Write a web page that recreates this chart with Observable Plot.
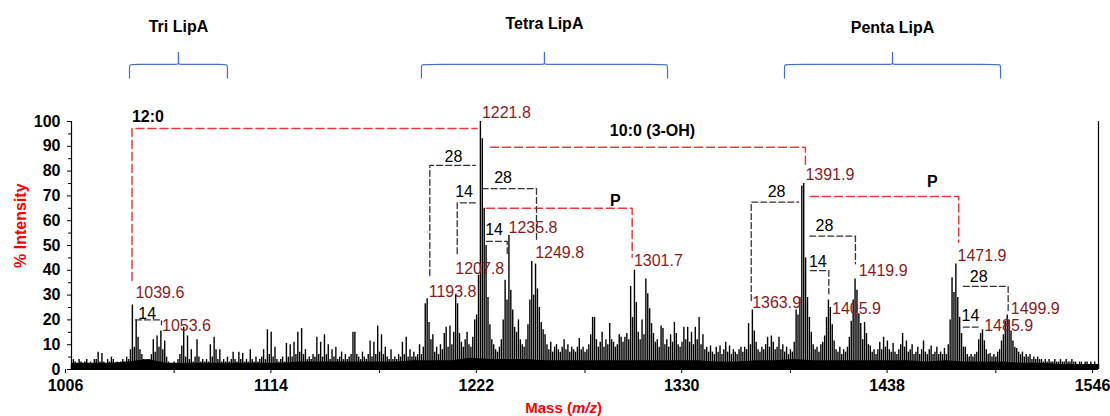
<!DOCTYPE html>
<html><head><meta charset="utf-8">
<script src="https://cdn.jsdelivr.net/npm/d3@7"></script>
<script src="https://cdn.jsdelivr.net/npm/@observablehq/plot@0.6"></script>
<style>
body{margin:0;background:#fff;}
#chart{width:1110px;height:416px;}
</style></head><body><div id="chart"></div>
<script>
// ---- spectrum: intensity (%) at each integer m/z starting at mzStart ----
const mzStart = 1006;
const intensity = [
  2,4,3,2,4,3,2,3,4,2,
  3,2,4,4,7,3,6.5,3,2,4,
  3,5,4,2,3,2,3,4,3,5,
  4,8,26,9,20,13,8,6,4,3,
  3,4,6,12,7,13.5,9,15.5,8,11.5,
  5,3,2,2,3,2,4,6,9.5,17,
  5,13.5,4,8,3,5,12,5,3,4,
  3,4,3,10,5,13,8,4,8,3,
  4,3,5,3,4,7,4,3,7,4,
  6.5,3,4,3,8,4,3,5,3,4,
  5,8,4,16,6,15,5,9,4,3,
  4,5,3,10.5,5,10,5,11,6,15,
  7,16.5,6,8,4,5,4,6,5,13,
  6,11,5,14,6,10,4,8,5,9,
  4,5,7,4,6,4,5,6,15,15,
  6,5,4,7,5,4,6,11.5,5,11,
  6,17.5,7,14,6,9,5,4,8,4,
  5,4,6,5,11,6,13,5,8,5,
  7,5,6,10,6,9,26.5,28.5,19,12,
  14,7,9,6,10,8,14.5,17,9,17.5,
  10,15,30,26.5,14.5,11,9,12,15,10,
  9,13,20,22,38,100,93,65,50,29,
  18,12,10,8,7,9,12,20,36,28,
  54,32,24,17,15,20,12,10,9,12,
  18,28,43.5,30,42.5,32.5,25,19,16,14,
  10,8,11,7,9,10,8,7,9,12,
  8,10,7,9,8,7,9,12.5,8,9,
  7,8,10,14,21,21,12,9,11,15,
  9,12,10,18.5,12,11,9,10,14,13,
  11,13,14.5,12,33.5,21,40,27,15,12,
  20,14,36.5,30.5,24.5,18.5,14.5,11,12,9,
  17.5,16.5,10,12,9,14,11,19,14.5,10,
  9,11,17,12,17,11,15,10,17,12,
  21,10,14,8,9,7,9.5,7,6,9,
  7,9.5,6,8,11,7,9.5,6,8,7,
  6,8,9,7,9,8,18.5,10,24,15.5,
  11,8,7,9,8,10,13,9,13.5,11,
  8,9,13,8,10,7,9,6,8,7,
  11,24,22,29,74,75,45,29,21,15,
  10,8,9,7,10,11,13.5,21,28,25,
  18,11.5,8,7,9,6,8,7,9,13,
  19.5,28,36.5,32,22.5,18.5,12,19,14.5,10,
  9.5,7,8,6,8,11,8,13,9,11.5,
  8,7,10.5,7,6,8,10,14.5,9,11.5,
  7,8,10,6,7,9,6,8,11.5,7,
  6,8,9.5,6,7,9,6,7,6,8.5,
  6,10,20,37,31,42.5,29,21,14.5,9,
  9,6,5,6,5,6,7,12,14.5,16,
  11.5,8,6,6.5,5,6,5,7,8,11.5,
  14,19.5,22,20,15.5,11.5,9,8.5,7,6,
  7,5,6,5,6,4,5,4,5,4,
  4,3,4,3,4,3,3,4,3,3,
  4,3,3,4,3,3,4,3,3,2,
  3,3,2,3,3,2,3,2,3,2,
  2
];
// noise floor (%) every floorStep m/z from mzStart
const floorStep = 10;
const noiseFloor = [
  2.5,2.5,2.5,3,4,2.5,2.5,2.5,2.5,2.5,
  2.5,2.5,3,3,3,3,3,3,3.5,3.5,
  3.5,4.5,4,4,4,3.5,3.5,3.5,3.5,3.5,
  3.5,3.5,3.5,3.5,3,3,3.5,3.5,4,3.5,
  3.5,3.5,3.5,3.5,3.5,3,3.5,3,3,3,
  2.5,2.5,2,2,2
];

// ---- axes ----
const xTicks = [1006, 1114, 1222, 1330, 1438, 1546];
const xMinorTicks = [1060, 1168, 1276, 1384, 1492];
const yTicks = [0, 10, 20, 30, 40, 50, 60, 70, 80, 90, 100];
const yMinorTicks = [5, 15, 25, 35, 45, 55, 65, 75, 85, 95];

// ---- labelled peaks (label text = m/z) and label height (%) ----
const peakLabels = ["1039.6","1053.6","1193.8","1207.8","1221.8","1235.8","1249.8","1301.7",
                    "1363.9","1391.9","1405.9","1419.9","1471.9","1485.9","1499.9"];
const peakLabelHeights = [31, 17.7, 31.5, 40.7, 103.4, 57.1, 47, 43.6,
                          26.8, 78.6, 24.3, 39.6, 45.7, 17.7, 24.3];

// ---- lipid A groups (m/z ranges under the braces) ----
const groupNames = ["Tri LipA", "Tetra LipA", "Penta LipA"];
const groupFrom = [1036.5, 1190, 1380.9];
const groupTo = [1088, 1319.4, 1494.5];
const groupTitleHeight = [138.3, 139.5, 137.6];

// ---- red (acyl / P) brackets ----
const redText = ["12:0", "10:0 (3-OH)", "P", "P"];
const redFrom = [1037.8, 1226.3, 1224.2, 1394.5];
const redTo = [1219.3, 1391.9, 1300.8, 1472.5];
const redLevel = [97.2, 89.6, 65, 69.8];
const redLeftDrop = [35.9, null, null, null];
const redRightDrop = [null, 81.6, 45.3, 51.3];
const redTextMz = [1046.2, 1311.5, 1292, 1458.6];
const redTextHeight = [101.8, 96.4, 68, 75.5];

// ---- black (14 / 28 Da) brackets ----
const blackText = ["14", "28", "14", "28", "14", "28", "28", "14", "28", "14"];
const blackFrom = [1039.6, 1194.4, 1208.8, 1221.9, 1224.2, 1363.4, 1394.2, 1394.6, 1474.9, 1474.9];
const blackTo = [1053.3, 1218.4, 1218.8, 1250.5, 1235.1, 1388.4, 1418.2, 1404.2, 1498.5, 1484];
const blackLevel = [20, 82.3, 67.2, 72.9, 51.7, 67.5, 53.8, 39.9, 33.5, 17.1];
const blackLeftDrop = [null, 37.9, 46.7, null, null, 27.8, null, null, null, null];
const blackRightDrop = [18, null, null, 52, 46.8, null, 42.6, 30.5, 23.8, null];
const blackTextMz = [1045.8, 1206.8, 1212.4, 1232.9, 1228.2, 1376.7, 1401.9, 1398.4, 1483, 1478.7];
const blackTextHeight = [22.6, 85.8, 71.8, 77.2, 56.4, 71.5, 58.1, 43.3, 37.2, 21.5];

// ---------- build tables ----------
const spectrum = intensity.map((v, i) => ({mz: mzStart + i, v}));
const floorData = noiseFloor.map((v, i) => ({mz: mzStart + i * floorStep, v}));
const peakLabelData = peakLabels.map((t, i) => ({t, mz: +t, h: peakLabelHeights[i]}));

function bracketPts(from, to, level, ld, rd) {
  return from.flatMap((f, i) => {
    const pts = [];
    if (ld[i] != null) pts.push({x: f, y: ld[i], k: i});
    pts.push({x: f, y: level[i], k: i}, {x: to[i], y: level[i], k: i});
    if (rd[i] != null) pts.push({x: to[i], y: rd[i], k: i});
    return pts;
  });
}
const redPts = bracketPts(redFrom, redTo, redLevel, redLeftDrop, redRightDrop);
const blackPts = bracketPts(blackFrom, blackTo, blackLevel, blackLeftDrop, blackRightDrop);
const redTextData = redText.map((t, i) => ({t, x: redTextMz[i], y: redTextHeight[i]}));
const blackTextData = blackText.map((t, i) => ({t, x: blackTextMz[i], y: blackTextHeight[i]}));

// braces: two halves each, ends at 117.5 %, bar at 123 %, tip at 127.8 %
const braceEnd = 117.5, braceBar = 123, braceTip = 127.8;
const bracePts = groupNames.flatMap((g, i) => {
  const a = groupFrom[i], b = groupTo[i], c = (a + b) / 2;
  const half = (e, s, k) => [
    {x: e, y: braceEnd, k}, {x: e, y: braceBar - 1.2, k}, {x: e, y: braceBar, k},
    {x: e + 2 * s, y: braceBar, k}, {x: c - 2 * s, y: braceBar, k}, {x: c, y: braceBar, k},
    {x: c, y: braceBar + 1.2, k}, {x: c, y: braceTip, k}
  ];
  return [...half(a, 1, i * 2), ...half(b, -1, i * 2 + 1)];
});
const groupData = groupNames.map((g, i) => ({g, x: (groupFrom[i] + groupTo[i]) / 2, y: groupTitleHeight[i]}));

const FONT = "Liberation Sans, Arial, Helvetica, sans-serif";
const RED = "#f03a3a";
const DARKRED = "#8b1a1a";

const chart = Plot.plot({
  width: 1110,
  height: 416,
  marginLeft: 71,
  marginRight: 12,
  marginTop: 121,
  marginBottom: 47,
  style: {fontFamily: FONT, background: "white", overflow: "visible"},
  x: {domain: [1006, 1546], label: null},
  y: {domain: [0, 100], label: null},
  marks: [
    Plot.areaY(floorData, {x: "mz", y: "v", fill: "#000"}),
    Plot.ruleX(spectrum, {x: "mz", y1: 0, y2: "v", stroke: "#000", strokeWidth: 1.4}),
    Plot.ruleX([1006], {y1: 0, y2: 100, stroke: "#000", strokeWidth: 1.2}),
    Plot.ruleX([1546], {y1: 0, y2: 100, stroke: "#000", strokeWidth: 1.2}),
    Plot.ruleY([0], {stroke: "#000", strokeWidth: 1.2}),
    Plot.axisX({ticks: xTicks, tickSize: 4, tickPadding: 6, tickFormat: "d", fontSize: 16, fontWeight: "bold",
      label: null, fill: "#000", dx: -6}),
    Plot.axisX({ticks: xMinorTicks, tickSize: 4, tickFormat: () => "", label: null}),
    Plot.axisY({ticks: yTicks, tickSize: 4, tickPadding: 7, fontSize: 16, fontWeight: "bold", label: null, fill: "#000"}),
    Plot.axisY({ticks: yMinorTicks, tickSize: 3, tickFormat: () => "", label: null}),
    // brackets
    Plot.line(redPts, {x: "x", y: "y", z: "k", stroke: RED, strokeWidth: 1.5, strokeDasharray: "8,4"}),
    Plot.line(blackPts, {x: "x", y: "y", z: "k", stroke: "#333", strokeWidth: 1.3, strokeDasharray: "6,3"}),
    Plot.text(redTextData, {x: "x", y: "y", text: "t", fontSize: 16, fontWeight: "bold", fill: "#000"}),
    Plot.text(blackTextData, {x: "x", y: "y", text: "t", fontSize: 16, fill: "#000"}),
    // peak labels
    Plot.text(peakLabelData, {x: "mz", y: "h", text: "t", textAnchor: "start", fontSize: 16, fill: DARKRED}),
    // braces + group titles
    Plot.line(bracePts, {x: "x", y: "y", z: "k", stroke: "#4472c4", strokeWidth: 1.2, curve: "basis"}),
    Plot.text(groupData, {x: "x", y: "y", text: "g", fontSize: 16, fontWeight: "bold", fill: "#000"}),
    // y axis title
    Plot.text([{t: "% Intensity", y: 58}], {y: "y", text: "t", frameAnchor: "left", textAnchor: "middle",
      dx: -51, rotate: -90, fontSize: 16, fontWeight: "bold", fill: "#ff0000"})
  ]
});

document.getElementById("chart").appendChild(chart);

// x axis title with italic m/z, positioned through Plot's x scale
const xs = chart.scale("x");
const t = d3.select(chart).append("text")
  .attr("x", xs.apply(1265))
  .attr("y", 413)
  .attr("text-anchor", "middle")
  .attr("font-family", FONT)
  .attr("font-size", 15)
  .attr("font-weight", "bold")
  .attr("fill", "#ff0000");
t.append("tspan").text("Mass (");
t.append("tspan").attr("font-style", "italic").text("m/z");
t.append("tspan").text(")");
</script>
</body></html>
